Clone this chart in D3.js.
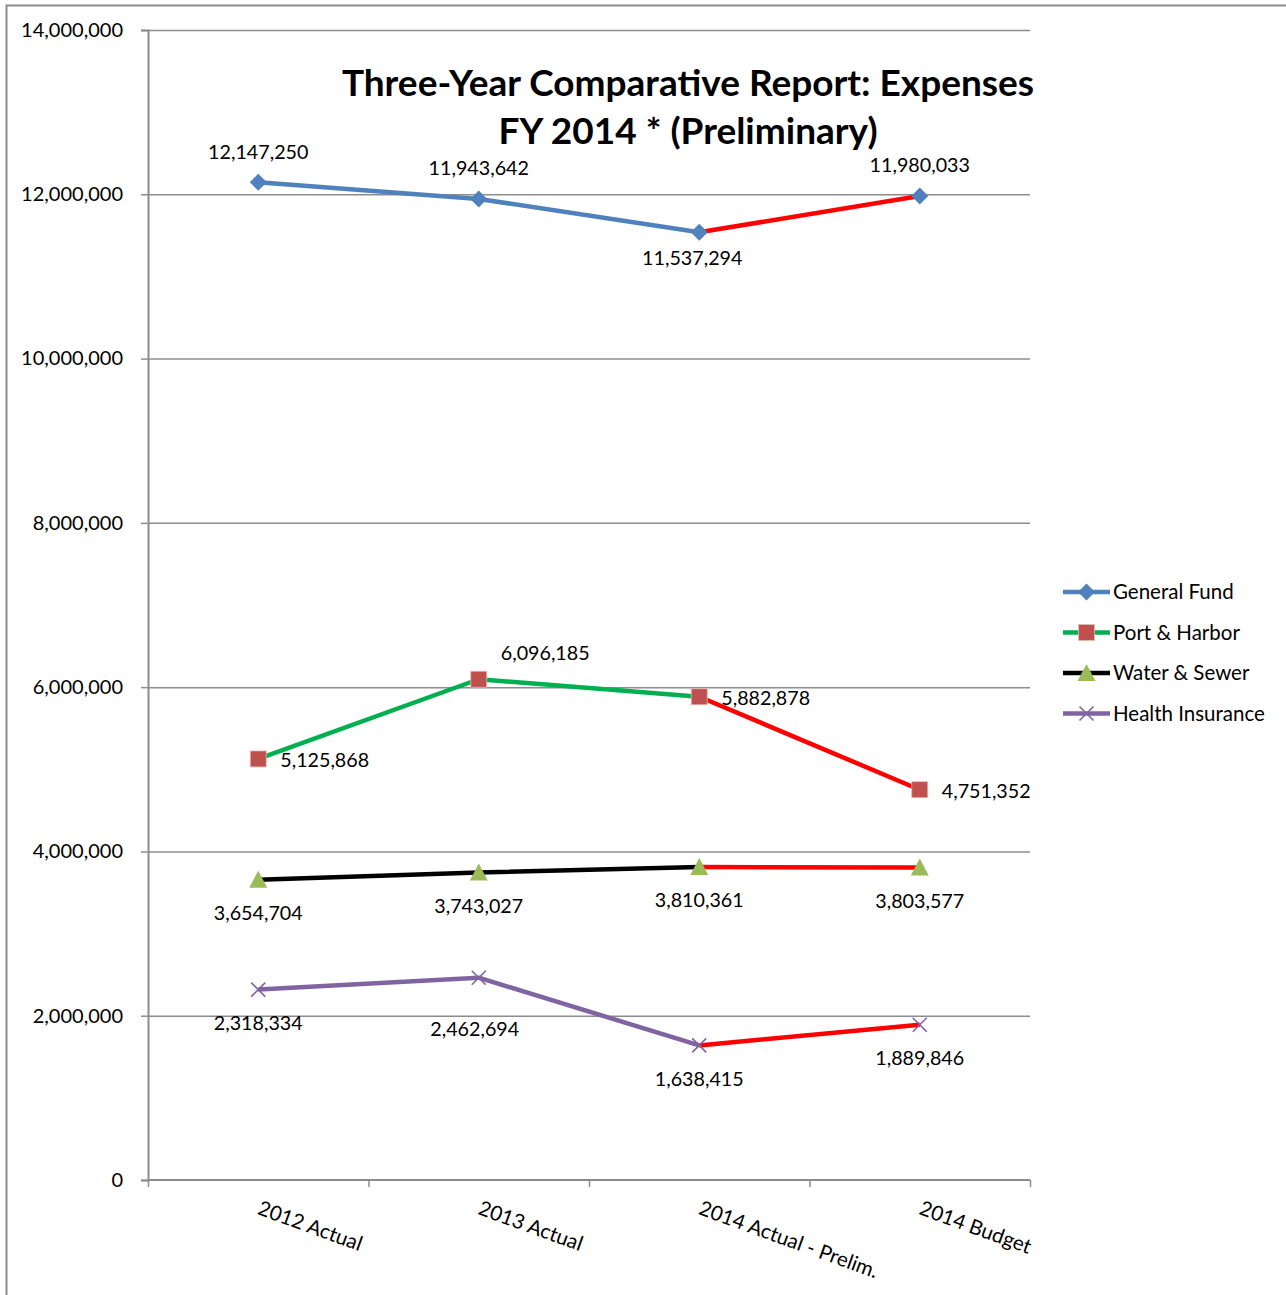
<!DOCTYPE html>
<html>
<head>
<meta charset="utf-8">
<script src="https://cdn.jsdelivr.net/npm/d3@7"></script>
<style>
  body { margin: 0; background: #fff; }
  text { font-family: Lato, "Open Sans", sans-serif; fill: #000; }
</style>
</head>
<body>
<div id="chart-area"></div>
<script>
// data
var categories = ["2012 Actual", "2013 Actual", "2014 Actual - Prelim.", "2014 Budget"];
var seriesNames = ["General Fund", "Port & Harbor", "Water & Sewer", "Health Insurance"];
var generalFund = [12147250, 11943642, 11537294, 11980033];
var portHarbor = [5125868, 6096185, 5882878, 4751352];
var waterSewer = [3654704, 3743027, 3810361, 3803577];
var healthIns = [2318334, 2462694, 1638415, 1889846];
var yTicks = [0, 2000000, 4000000, 6000000, 8000000, 10000000, 12000000, 14000000];

var titleLines = ["Three-Year Comparative Report: Expenses", "FY 2014 * (Preliminary)"];

var W = 1286, H = 1295;
var margin = { left: 148, right: 256, top: 30, bottom: 115 };
var width = W - margin.left - margin.right,   // 882
    height = H - margin.top - margin.bottom;  // 1150

var svg = d3.select("#chart-area")
    .append("svg")
        .attr("width", W)
        .attr("height", H);

// outer frame (right/bottom edges fall off the page)
svg.append("rect")
    .attr("x", 6.5).attr("y", 5.5)
    .attr("width", W + 20).attr("height", H + 20)
    .attr("fill", "none")
    .attr("stroke", "#8c8c8c")
    .attr("stroke-width", 2);

var g = svg.append("g")
    .attr("transform", "translate(" + margin.left + "," + margin.top + ")");

var x = d3.scaleBand()
    .domain(categories)
    .range([0, width]);

var y = d3.scaleLinear()
    .domain([0, 14000000])
    .range([height, 0]);

function cx(i) { return x(categories[i]) + x.bandwidth() / 2; }

// gridlines
g.append("g")
    .attr("class", "grid")
    .call(d3.axisLeft(y).tickValues(yTicks.slice(1)).tickSize(-width).tickFormat(""))
    .call(s => s.select(".domain").remove())
    .selectAll("line")
        .attr("stroke", "#8c8c8c")
        .attr("stroke-width", 1.5);

// y axis
g.append("g")
    .attr("class", "y axis")
    .call(d3.axisLeft(y).tickValues(yTicks).tickSize(7).tickPadding(18).tickFormat(d3.format(",")))
    .call(s => s.select(".domain").attr("stroke", "#8c8c8c").attr("stroke-width", 2))
    .call(s => s.selectAll("line").attr("stroke", "#8c8c8c").attr("stroke-width", 1.5))
    .selectAll("text")
        .attr("font-size", "20px")
        .attr("font-family", "Lato, sans-serif")
        .attr("fill", "#000");

// x axis: ticks between categories
var xEdges = d3.scaleLinear().domain([0, categories.length]).range([0, width]);
g.append("g")
    .attr("class", "x axis")
    .attr("transform", "translate(0," + height + ")")
    .call(d3.axisBottom(xEdges).ticks(categories.length).tickSize(7).tickFormat(""))
    .call(s => s.select(".domain").attr("stroke", "#8c8c8c").attr("stroke-width", 2).attr("d", "M0,0H" + width))
    .call(s => s.selectAll("line").attr("stroke", "#8c8c8c").attr("stroke-width", 1.5));

g.append("g")
    .attr("class", "x labels")
    .selectAll("text")
    .data(categories)
    .enter()
    .append("text")
        .attr("transform", (d, i) => "translate(" + (cx(i)) + "," + (height + 29) + ") rotate(20)")
        .attr("text-anchor", "start")
        .attr("dominant-baseline", "middle")
        .attr("font-size", "20.5px")
        .text(d => d);

// series
var series = [
    { name: seriesNames[0], values: generalFund, line: "#4f81bd", marker: "#4f81bd", shape: "diamond" },
    { name: seriesNames[1], values: portHarbor,  line: "#00b050", marker: "#c0504d", shape: "square" },
    { name: seriesNames[2], values: waterSewer,  line: "#000000", marker: "#9bbb59", shape: "triangle" },
    { name: seriesNames[3], values: healthIns,   line: "#8064a2", marker: "#8064a2", shape: "cross" }
];

// label placement per series/point: [dx, dy, anchor]
var labelLayout = [
    [[0, -28, "middle"], [0, -29, "middle"], [-7, 28, "middle"], [0, -29, "middle"]],
    [[22, 3, "start"], [22, -24, "start"], [22, 3, "start"], [22, 3, "start"]],
    [[0, 35, "middle"], [0, 35, "middle"], [0, 35, "middle"], [0, 35, "middle"]],
    [[0, 35, "middle"], [-4, 53, "middle"], [0, 36, "middle"], [0, 35, "middle"]]
];

var line = d3.line()
    .x(d => cx(d.i))
    .y(d => y(d.v));

function drawMarker(sel, shape, color) {
    if (shape === "diamond") {
        sel.append("path").attr("d", "M0,-8.5L8.5,0L0,8.5L-8.5,0Z").attr("fill", color);
    } else if (shape === "square") {
        sel.append("rect").attr("x", -8).attr("y", -8).attr("width", 16).attr("height", 16)
            .attr("fill", color).attr("stroke", "#e6b8b7").attr("stroke-width", 0.8);
    } else if (shape === "triangle") {
        sel.append("path").attr("d", "M0,-9L9,8L-9,8Z").attr("fill", color);
    } else {
        sel.append("path").attr("d", "M-7,-7L7,7M-7,7L7,-7")
            .attr("stroke", color).attr("stroke-width", 1.6).attr("fill", "none");
    }
}

series.forEach((s, si) => {
    var pts = s.values.map((v, i) => ({ v: v, i: i }));
    g.append("path")
        .datum(pts.slice(0, 3))
        .attr("d", line)
        .attr("fill", "none")
        .attr("stroke", s.line)
        .attr("stroke-width", 4.5)
        .attr("stroke-linejoin", "round");
    g.append("path")
        .datum(pts.slice(2))
        .attr("d", line)
        .attr("fill", "none")
        .attr("stroke", "#ff0000")
        .attr("stroke-width", 4.5);

    pts.forEach(p => {
        var m = g.append("g").attr("transform", "translate(" + cx(p.i) + "," + y(p.v) + ")");
        drawMarker(m, s.shape, s.marker);
    });

    g.append("g")
        .selectAll("text")
        .data(pts)
        .enter()
        .append("text")
            .attr("x", d => cx(d.i) + labelLayout[si][d.i][0])
            .attr("y", d => y(d.v) + labelLayout[si][d.i][1])
            .attr("text-anchor", d => labelLayout[si][d.i][2])
            .attr("dominant-baseline", "middle")
            .attr("font-size", "19.7px")
            .text(d => d3.format(",")(d.v));
});

// title
svg.append("g")
    .selectAll("text")
    .data(titleLines)
    .enter()
    .append("text")
        .attr("x", 688)
        .attr("y", (d, i) => 87 + i * 48)
        .attr("text-anchor", "middle")
        .attr("dominant-baseline", "middle")
        .attr("font-size", "37px")
        .attr("font-weight", "bold")
        .text(d => d);

// legend
var legend = svg.append("g")
    .attr("transform", "translate(1063,592)");

var rows = legend.selectAll("g")
    .data(series)
    .enter()
    .append("g")
        .attr("transform", (d, i) => "translate(0," + (i * 40.5) + ")");

rows.append("line")
    .attr("x1", 0).attr("x2", 47)
    .attr("stroke", d => d.line)
    .attr("stroke-width", 4.5);

rows.each(function(d) {
    var m = d3.select(this).append("g").attr("transform", "translate(23.5,0)");
    drawMarker(m, d.shape, d.marker);
});

rows.append("text")
    .attr("x", 50)
    .attr("y", 2)
    .attr("dominant-baseline", "middle")
    .attr("font-size", "20.5px")
    .text(d => d.name);
</script>
</body>
</html>
